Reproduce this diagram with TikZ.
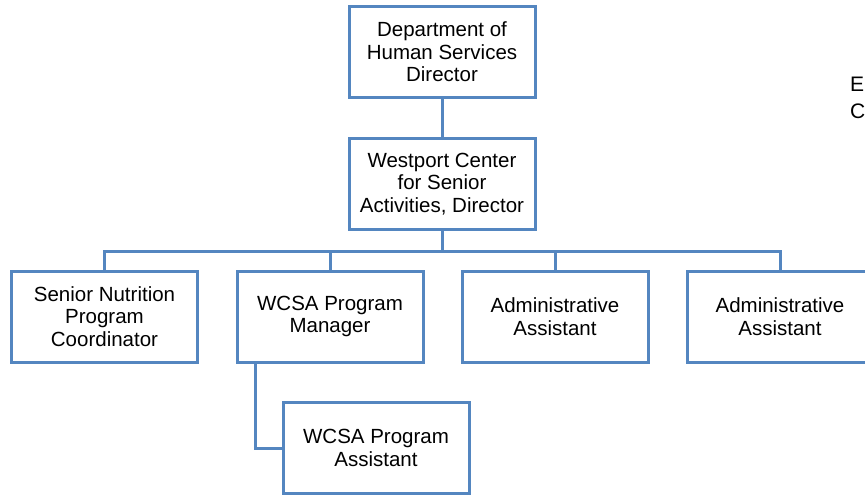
\documentclass[tikz,border=0pt]{standalone}
\usepackage{fontspec}
\setmainfont{Liberation Sans}
\definecolor{orgline}{RGB}{84,134,192}
\begin{document}
\begin{tikzpicture}[x=1pt,y=-1pt,
  orgbox/.style={draw=orgline,line width=3pt,fill=white,minimum width=186pt,minimum height=91pt,inner sep=0pt,align=center,font=\fontsize{20.5}{22.5}\selectfont,text=black},
  orglink/.style={draw=orgline,line width=3pt}]
\useasboundingbox (0,0) rectangle (865,496);
\node[orgbox] (dhs) at (442,52) {Department of\\Human Services\\Director};
\node[orgbox] (wcsa) at (442,184) {Westport Center\\for Senior\\Activities, Director};
\node[orgbox] (snp) at (104.5,316.5) {Senior Nutrition\\Program\\Coordinator};
\node[orgbox] (pm) at (330,316.5) {WCSA Program\\Manager};
\node[orgbox] (aa1) at (555,316.5) {Administrative\\Assistant};
\node[orgbox] (aa2) at (780,316.5) {Administrative\\Assistant};
\node[orgbox] (pa) at (376,448) {WCSA Program\\Assistant};
\coordinate (bus) at (442,251);
\coordinate (pmdrop) at (255,0);
\draw[orglink] (dhs.south) -- (wcsa.north);
\draw[orglink] (wcsa.south) -- (bus);
\draw[orglink] (snp.north) |- (bus);
\draw[orglink] (aa2.north) |- (bus);
\draw[orglink] (pm.north) |- (bus);
\draw[orglink] (aa1.north) |- (bus);
\draw[orglink] (pmdrop |- pm.south) |- (pa.west);
\node[anchor=base west,inner sep=0pt,font=\fontsize{21}{27}\selectfont] (e) at (850,91) {E};
\node[anchor=base west,inner sep=0pt,font=\fontsize{21}{27}\selectfont] (c) at (850,118) {C};
\end{tikzpicture}
\end{document}
